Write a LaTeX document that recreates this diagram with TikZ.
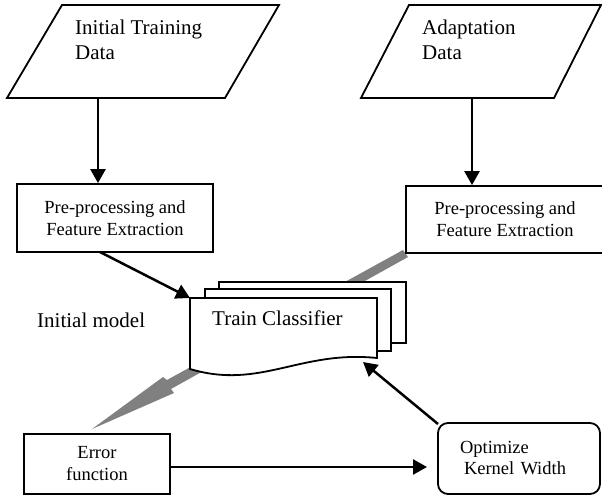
\documentclass[tikz,border=0pt]{standalone}
\usepackage{fontspec}
\setmainfont{Liberation Serif}
\usetikzlibrary{arrows.meta}
\begin{document}
\begin{tikzpicture}[x=1pt,y=-1pt,
  box/.style={draw,line width=1.8pt,fill=white},
  arr/.style={line width=2.5pt,-{Triangle[length=14pt,width=15pt]}},
  big/.style={font=\fontsize{21}{25}\selectfont,inner sep=0pt},
  small/.style={font=\fontsize{18.5}{22}\selectfont,align=center},
  bolt/.style={fill=black!50,draw=none}
]
\useasboundingbox (0,0) rectangle (602,497);
\clip (0,0) rectangle (602,497);

% gray lightning arrow (behind the classifier)
\coordinate (boltstart) at (405,254);
\coordinate (bolttip) at (92,429);
\fill[bolt] (403,250) -- (167,380) -- (163,377) -- (bolttip) -- (174,393) -- (171,389) -- (408,257) -- cycle;

% input parallelograms
\draw[box] (62,5) -- (279,5) -- (225,98) -- (7,98) -- cycle;
\node[big,anchor=base west,align=left] (itd) at (75,60) {Initial Training\\Data};
\coordinate (itdout) at (98,98);

\draw[box] (409,5) -- (601,5) -- (554,98) -- (361,98) -- cycle;
\node[big,anchor=base west,align=left] (ad) at (422,60) {Adaptation\\Data};
\coordinate (adout) at (472,98);

% preprocessing boxes
\node[box,small,minimum width=196pt,minimum height=68pt] (pre1) at (115,218)
  {Pre-processing and\\Feature Extraction};
\node[box,small,minimum width=198pt,minimum height=67pt] (pre2) at (505,219.5)
  {Pre-processing and\\Feature Extraction};
\coordinate (pre1out) at (100,252);

% train classifier (multi-document)
\draw[box] (219,282) rectangle (406,343);
\draw[box] (205,289) rectangle (391,351);
\draw[box] (190,298) -- (377,298) -- (377,358)
  .. controls (300,350) and (260,390) .. (190,369) -- cycle;
\coordinate (tcNW) at (190,298);
\coordinate (tcSE) at (363,362);
\node[big,anchor=base west] (tc) at (212,325) {Train Classifier};

\node[big,anchor=base west] (im) at (37,327) {Initial model};

% bottom boxes
\node[box,small,minimum width=146pt,minimum height=60pt] (err) at (97,464)
  {Error\\function};
\node[box,rounded corners=10pt,font=\fontsize{18.5}{21}\selectfont,align=left,
  text width=130pt,minimum width=162pt,minimum height=71pt] (opt) at (519,458.5)
  {\hspace*{6pt}Optimize\\\hspace*{10pt}Kernel Width};
\coordinate (optNW) at (438,424);
\coordinate (errout) at (170,467);
\coordinate (optin) at (427,467);

% connectors
\draw[arr] (itdout) -- (itdout |- pre1.north);
\draw[arr] (adout) -- (adout |- pre2.north);
\draw[arr] (pre1out) -- (tcNW);
\draw[arr] (errout) -- (optin);
\draw[arr] (optNW) -- (tcSE);
\end{tikzpicture}
\end{document}
